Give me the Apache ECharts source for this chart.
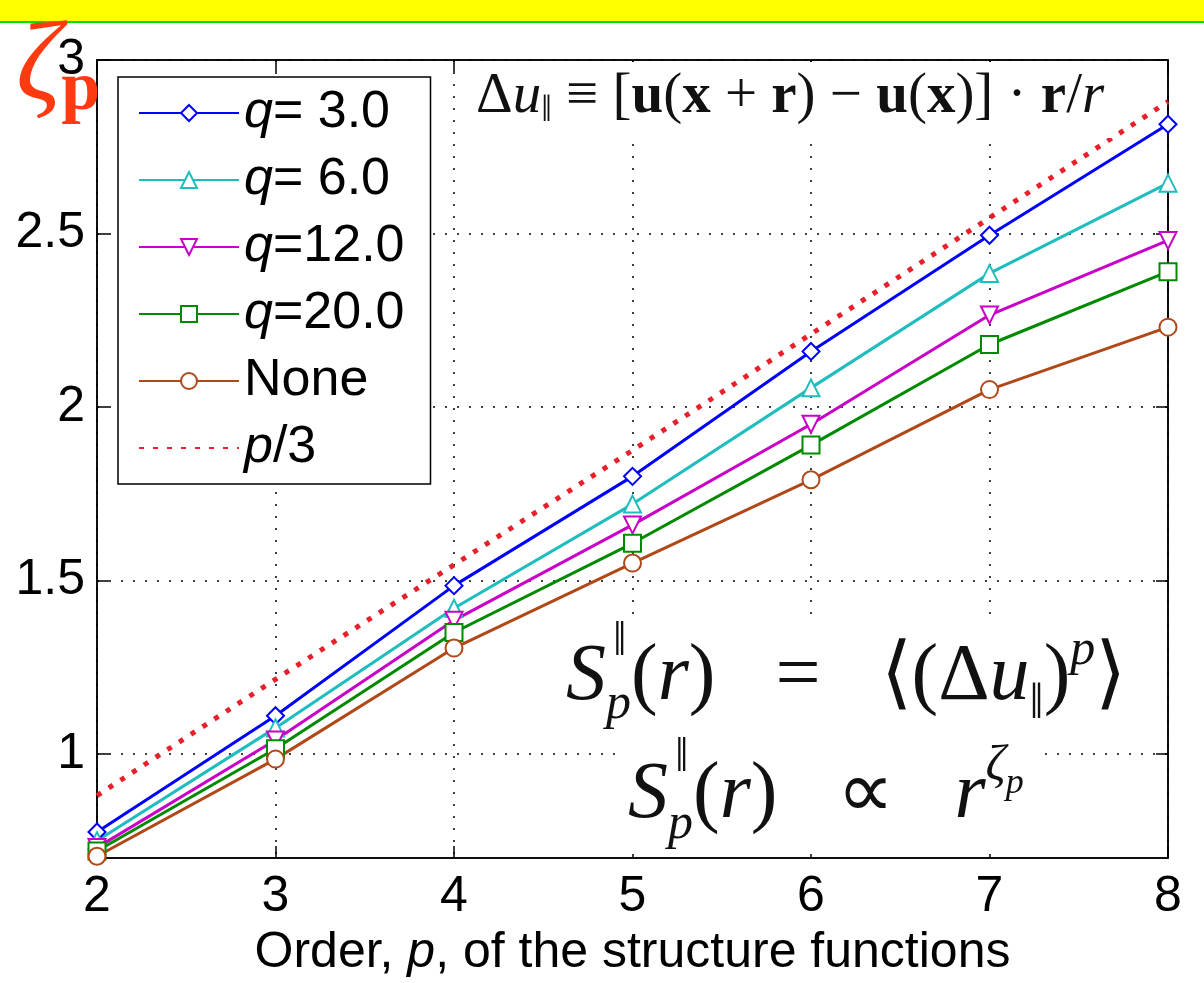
<!DOCTYPE html>
<html>
<head>
<meta charset="utf-8">
<script src="https://cdn.jsdelivr.net/npm/echarts@6/dist/echarts.min.js"></script>
<style>
  html, body { margin: 0; padding: 0; background: #fff; }
  #chart { width: 1204px; height: 983px; }
</style>
</head>
<body>
<div id="chart"></div>
<script>
// order p of the structure functions
var orders = [2, 3, 4, 5, 6, 7, 8];
// zeta_p
var q3 = [0.775, 1.11, 1.485, 1.80, 2.16, 2.495, 2.815];
var q6 = [0.75, 1.075, 1.42, 1.72, 2.055, 2.385, 2.645];
var q12 = [0.73, 1.04, 1.385, 1.66, 1.95, 2.265, 2.48];
var q20 = [0.72, 1.015, 1.35, 1.607, 1.89, 2.18, 2.39];
var none = [0.705, 0.985, 1.305, 1.55, 1.79, 2.05, 2.23];
var p3 = [0.88, 1.215, 1.545, 1.875, 2.21, 2.545, 2.88];
var seriesNames = ['q= 3.0', 'q= 6.0', 'q=12.0', 'q=20.0', 'None', 'p/3'];
var yTicks = [1, 1.5, 2, 2.5, 3];

function pairs(vals) {
  var out = [];
  for (var i = 0; i < orders.length; i++) out.push([orders[i], vals[i]]);
  return out;
}

var sans = 'Liberation Sans';
var serif = 'Liberation Serif';

function lineSeries(name, vals, color, symbol, rotate) {
  return {
    name: name,
    type: 'line',
    data: pairs(vals),
    symbol: symbol,
    symbolSize: 17,
    symbolRotate: rotate || 0,
    showAllSymbol: true,
    lineStyle: { color: color, width: 3 },
    itemStyle: { color: color, borderColor: color, borderWidth: 3 },
    emphasis: { disabled: true },
    animation: false
  };
}

function mathRich(size, lh) {
  var small = Math.round(size * 0.62);
  return {
    S: { fontFamily: serif, fontSize: size, fontStyle: 'italic', fill: '#111', lineHeight: lh },
    n: { fontFamily: serif, fontSize: size, fill: '#111', lineHeight: lh },
    i: { fontFamily: serif, fontSize: size, fontStyle: 'italic', fill: '#111', lineHeight: lh },
    sub: { fontFamily: serif, fontSize: small, fontStyle: 'italic', fill: '#111', lineHeight: lh, verticalAlign: 'bottom' },
    sup: { fontFamily: serif, fontSize: small, fontStyle: 'italic', fill: '#111', lineHeight: lh, verticalAlign: 'top' },
    sup2: { fontFamily: serif, fontSize: Math.round(size * 0.45), fontStyle: 'italic', fill: '#111', lineHeight: lh * 0.6, verticalAlign: 'top', padding: [Math.round(size * 0.3), 0, 0, 0] }
  };
}

var legendData = seriesNames.map(function (n) {
  return n === 'p/3' ? { name: n, itemStyle: { opacity: 0 } } : { name: n };
});

var chart = echarts.init(document.getElementById('chart'));
var option = {
  backgroundColor: '#fff',
  animation: false,
  grid: {
    left: 97, right: 36, top: 60, bottom: 121,
    show: true, borderColor: '#000', borderWidth: 1.5, backgroundColor: 'transparent'
  },
  legend: {
    left: 118, top: 77,
    orient: 'vertical',
    backgroundColor: '#fff',
    borderColor: '#000',
    borderWidth: 1.5,
    padding: [10, 26, 10, 20],
    itemWidth: 100,
    itemHeight: 20,
    itemGap: 15,
    data: legendData,
    formatter: function (name) {
      if (name.charAt(0) === 'q') return '{i|q}{n|' + name.slice(1) + '}';
      if (name === 'p/3') return '{i|p}{n|/3}';
      return '{n|' + name + '}';
    },
    textStyle: {
      fontFamily: sans, fontSize: 52, lineHeight: 52, color: '#000',
      rich: {
        i: { fontFamily: sans, fontSize: 52, fontStyle: 'italic', color: '#000' },
        n: { fontFamily: sans, fontSize: 52, color: '#000' }
      }
    }
  },
  xAxis: [{
    type: 'value', min: 2, max: 8, interval: 1,
    name: '{n|Order, }{i|p}{n|, of the structure functions}',
    nameLocation: 'middle', nameGap: 70,
    nameTextStyle: {
      rich: {
        n: { fontFamily: sans, fontSize: 50, color: '#000' },
        i: { fontFamily: sans, fontSize: 50, fontStyle: 'italic', color: '#000' }
      }
    },
    axisLine: { show: true, lineStyle: { color: '#000', width: 1.5 } },
    axisTick: { show: true, inside: true, length: 12, lineStyle: { color: '#000', width: 1.5 } },
    axisLabel: { fontFamily: sans, fontSize: 50, color: '#000', margin: 14 },
    splitLine: { show: true, lineStyle: { color: '#000', width: 1.5, type: [2, 10] } }
  }, {
    type: 'value', min: 2, max: 8, interval: 1, position: 'top',
    axisLine: { show: true, lineStyle: { color: '#000', width: 1.5 } },
    axisTick: { show: true, inside: true, length: 12, lineStyle: { color: '#000', width: 1.5 } },
    axisLabel: { show: false },
    splitLine: { show: false }
  }],
  yAxis: [{
    type: 'value', min: 0.7, max: 3,
    axisLine: { show: true, lineStyle: { color: '#000', width: 1.5 } },
    axisTick: { show: true, inside: true, length: 12, customValues: yTicks, lineStyle: { color: '#000', width: 1.5 } },
    axisLabel: { fontFamily: sans, fontSize: 50, color: '#000', margin: 12, customValues: yTicks },
    splitLine: { show: true, lineStyle: { color: '#000', width: 1.5, type: [2, 10] } }
  }, {
    type: 'value', min: 0.7, max: 3, position: 'right',
    axisLine: { show: true, lineStyle: { color: '#000', width: 1.5 } },
    axisTick: { show: true, inside: true, length: 12, customValues: yTicks, lineStyle: { color: '#000', width: 1.5 } },
    axisLabel: { show: false },
    splitLine: { show: false }
  }],
  series: [
    lineSeries('q= 3.0', q3, '#0000ff', 'emptyDiamond'),
    lineSeries('q= 6.0', q6, '#1fbdbd', 'emptyTriangle'),
    lineSeries('q=12.0', q12, '#c800c8', 'emptyTriangle', 180),
    lineSeries('q=20.0', q20, '#008a00', 'emptyRect'),
    lineSeries('None', none, '#b04818', 'emptyCircle'),
    {
      name: 'p/3',
      type: 'line',
      data: pairs(p3),
      symbol: 'none',
      lineStyle: { color: '#e8202a', width: 5, type: [5, 9] },
      itemStyle: { color: '#c0304a' },
      emphasis: { disabled: true },
      animation: false
    }
  ],
  graphic: [
    { type: 'rect', left: 0, top: 0, shape: { width: 1204, height: 21 }, style: { fill: '#ffff00' }, z: 100 },
    { type: 'rect', left: 0, top: 21, shape: { width: 1204, height: 2 }, style: { fill: '#00dd00' }, z: 100 },
    {
      type: 'text', left: 468, top: 62, z: 50,
      style: {
        text: '{n|Δ}{i|u}{s|‖}{n| ≡ [}{b|u}{n|(}{b|x}{n| + }{b|r}{n|) − }{b|u}{n|(}{b|x}{n|)] · }{b|r}{n|/}{i|r}',
        backgroundColor: '#fff',
        padding: [2, 10, 8, 8],
        rich: {
          n: { fontFamily: serif, fontSize: 57, fill: '#111', lineHeight: 66 },
          i: { fontFamily: serif, fontSize: 57, fontStyle: 'italic', fill: '#111', lineHeight: 66 },
          b: { fontFamily: serif, fontSize: 57, fontWeight: 'bold', fill: '#111', lineHeight: 66 },
          s: { fontFamily: serif, fontSize: 38, fill: '#111', lineHeight: 66, verticalAlign: 'bottom' }
        }
      }
    },
    {
      type: 'text', left: 560, top: 622, z: 50,
      style: {
        text: '{S|S}{sub|p}{n|(}{i|r}{n|)   =   ⟨(Δ}{i|u}{sub|‖}{n|)}{sup|p}{n|⟩}',
        backgroundColor: '#fff',
        padding: [4, 6, 4, 6],
        rich: mathRich(80, 104)
      }
    },
    {
      type: 'text', left: 622, top: 738, z: 50,
      style: {
        text: '{S|S}{sub|p}{n|(}{i|r}{n|)   ∝   }{i|r}{sup|ζ}{sup2|p}',
        backgroundColor: '#fff',
        padding: [4, 14, 4, 6],
        rich: mathRich(80, 108)
      }
    },
    // parallel marks over the S of the two structure-function formulas
    { type: 'text', left: 613, top: 618, z: 51, style: { text: '‖', fontFamily: serif, fontSize: 48, fill: '#111' } },
    { type: 'text', left: 675, top: 734, z: 51, style: { text: '‖', fontFamily: serif, fontSize: 48, fill: '#111' } },
    {
      type: 'text', left: 16, top: 14, z: 110,
      style: {
        text: '{z|ζ}{p|p}',
        rich: {
          z: { fontFamily: serif, fontSize: 112, fontStyle: 'italic', fill: '#ff3a10', textShadowColor: '#aaa', textShadowOffsetX: 4, textShadowOffsetY: 3, lineHeight: 112 },
          p: { fontFamily: serif, fontSize: 70, fontWeight: 'bold', fill: '#ff3a10', textShadowColor: '#aaa', textShadowOffsetX: 4, textShadowOffsetY: 3, verticalAlign: 'bottom', lineHeight: 112 }
        }
      }
    }
  ]
};
chart.setOption(option);
</script>
</body>
</html>
